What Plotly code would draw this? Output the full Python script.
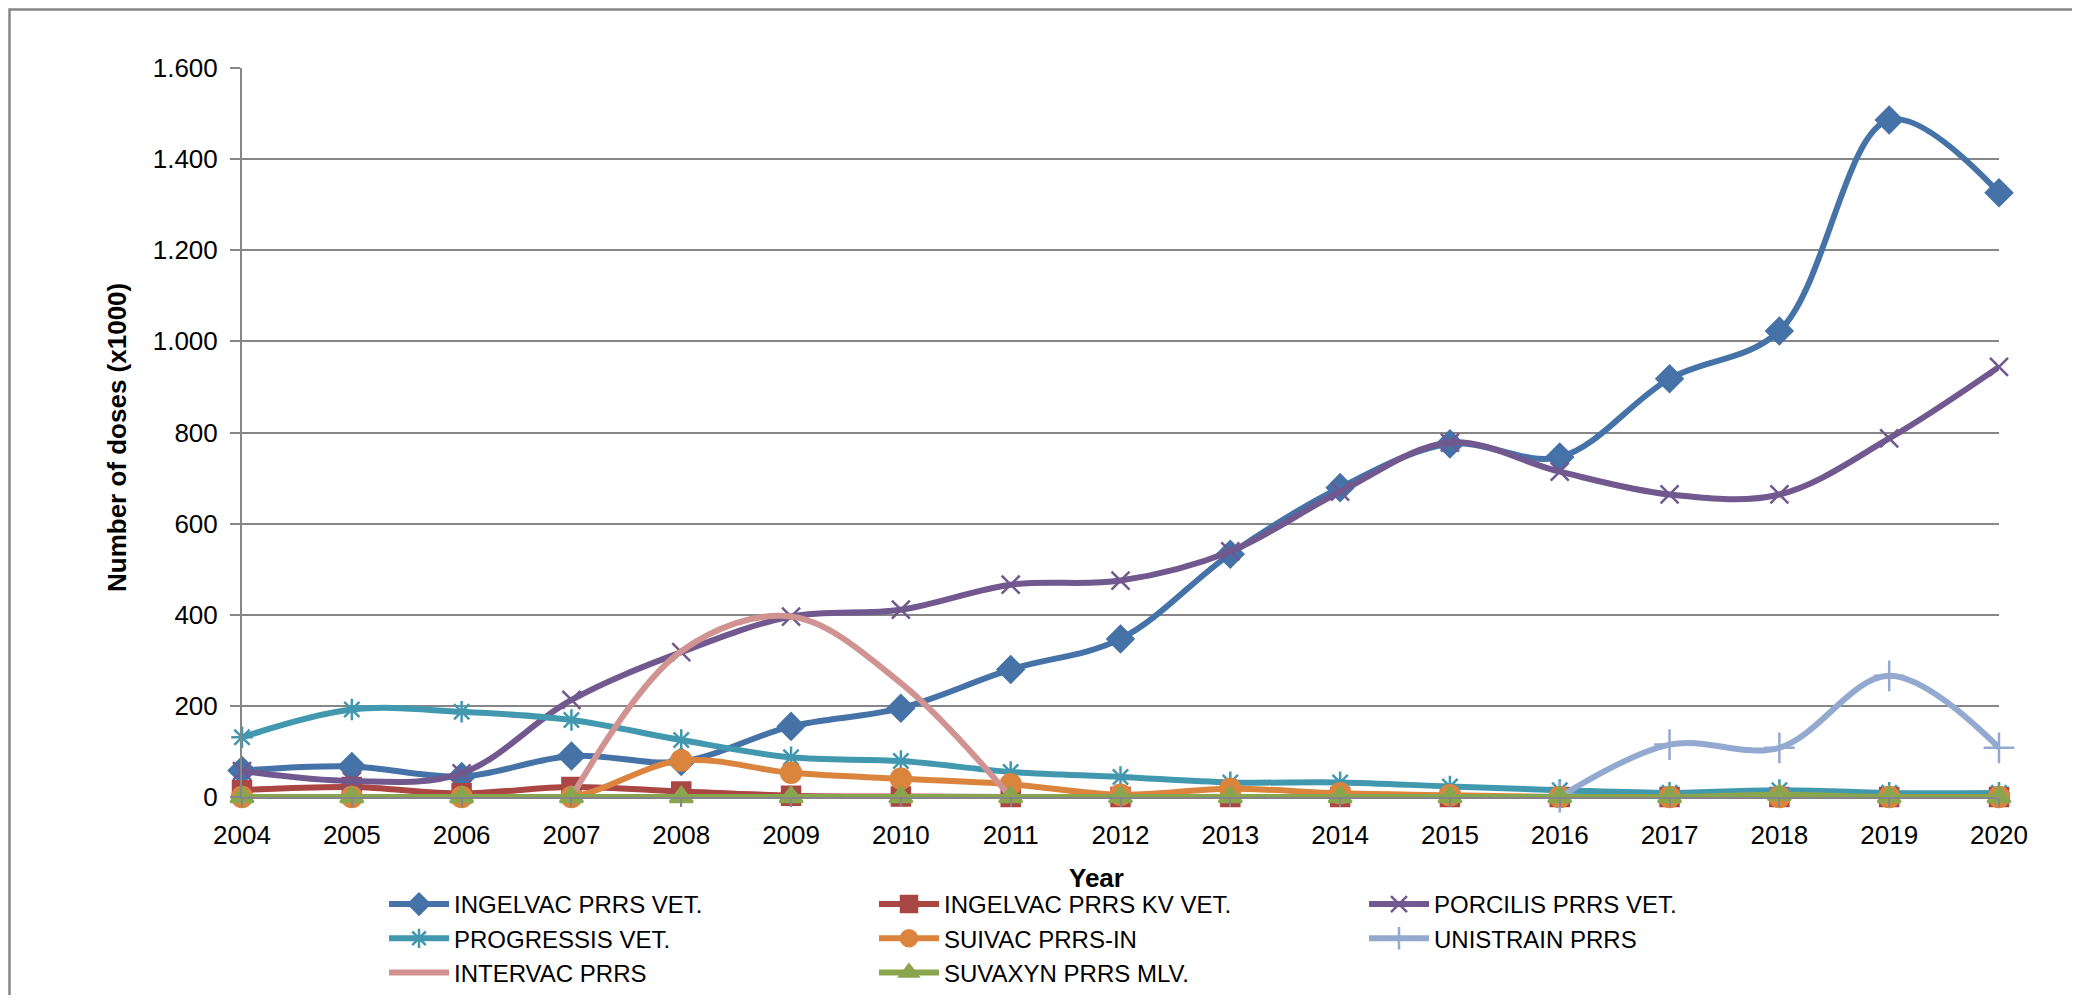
import plotly.graph_objects as go

years = list(range(2004, 2021))

ingelvac = [58, 67, 45, 90, 78, 155, 195, 280, 347, 533, 679, 775, 746, 918, 1023, 1486, 1326]
ingelvac_kv = [15, 22, 8, 22, 12, 3, 1, 0, 0, 0, 0, 0, 0, 0, 0, 0, 0]
porcilis = [57, 35, 52, 213, 318, 396, 411, 466, 475, 539, 670, 778, 714, 664, 664, 787, 944]
progressis = [131, 192, 187, 169, 125, 87, 79, 55, 44, 32, 32, 23, 15, 9, 15, 9, 9]
suivac = [0, 0, 0, 0, 80, 53, 40, 28, 5, 18, 8, 4, 0, 0, 0, 0, 0]
unistrain = [None] * 12 + [0, 115, 108, 266, 108]
intervac = [None, None, None, 0, 320, 396, 250, 0, None, None, None, None, None, None, None, None, None]
suvaxyn = [0, 0, 0, 0, 0, 0, 0, 0, 0, 0, 0, 0, 0, 0, 5, 0, 0]

series_names = ["INGELVAC PRRS VET.", "INGELVAC PRRS KV VET.", "PORCILIS PRRS VET.",
                "PROGRESSIS VET.", "SUIVAC PRRS-IN", "UNISTRAIN PRRS",
                "INTERVAC PRRS", "SUVAXYN PRRS MLV."]
series_values = [ingelvac, ingelvac_kv, porcilis, progressis, suivac, unistrain, intervac, suvaxyn]
colors = ["#4572A7", "#AA4643", "#71588F", "#4198AF", "#DB843D", "#93A9CF", "#D19392", "#89A54E"]
symbols = ["diamond", "square", "x-thin-open", "asterisk-open", "circle", "cross-thin-open", None, "triangle-up"]
msizes = [20, 18, 18, 18, 20, 22, 0, 20]

yticks = [0, 200, 400, 600, 800, 1000, 1200, 1400, 1600]
ytick_text = ["0", "200", "400", "600", "800", "1.000", "1.200", "1.400", "1.600"]

FONT = "Liberation Sans, Arial, sans-serif"

# The page body adds an 8px margin; figure is sized to fit the 2080x1003 window.
W, H = 2064, 987
L, T = 234, 60
PW, PH = 1757, 729
R, B = W - L - PW, H - T - PH
X0 = L            # pixel x of plot left (figure coords)
Y0 = T + PH       # pixel y of plot bottom (figure coords)


def px(x):
    return (x - X0) / PW


def py(y):
    return (Y0 - y) / PH


fig = go.Figure()
for name, vals, col, sym, ms in zip(series_names, series_values, colors, symbols, msizes):
    if sym is None:
        mode = "lines"
        marker = None
    else:
        mode = "lines+markers"
        marker = dict(symbol=sym, size=ms, color=col, line=dict(color=col, width=2.5))
    fig.add_trace(go.Scatter(
        x=years, y=vals, name=name, mode=mode,
        line=dict(color=col, width=6, shape="spline", smoothing=1.0),
        marker=marker, cliponaxis=False, connectgaps=False,
    ))

fig.update_layout(
    width=W, height=H,
    paper_bgcolor="white", plot_bgcolor="white",
    margin=dict(l=L, r=R, t=T, b=B, autoexpand=False),
    font=dict(family=FONT, size=26, color="#000000"),
    showlegend=True,
    legend=dict(
        orientation="h", x=px(376), xanchor="left", y=py(874), yanchor="top",
        entrywidth=415, entrywidthmode="pixels", itemwidth=60,
        font=dict(family=FONT, size=24, color="#000000"),
        tracegroupgap=0, traceorder="normal", bgcolor="rgba(0,0,0,0)",
    ),
    xaxis=dict(
        range=[2004, 2020], tickmode="array", tickvals=years,
        ticktext=[str(y) for y in years],
        showgrid=False, showline=True, linecolor="#868686", linewidth=2,
        ticks="outside", ticklen=8, tickcolor="#868686", tickwidth=2,
        ticklabelstandoff=6,
        zeroline=False, tickfont=dict(family=FONT, size=26),
    ),
    yaxis=dict(
        range=[0, 1600], tickmode="array", tickvals=yticks, ticktext=ytick_text,
        showgrid=True, gridcolor="#868686", gridwidth=2,
        showline=True, linecolor="#868686", linewidth=2,
        ticks="outside", ticklen=10, tickcolor="#868686", tickwidth=2,
        ticklabelstandoff=7,
        zeroline=False, tickfont=dict(family=FONT, size=26),
    ),
    annotations=[
        dict(text="<b>Year</b>", xref="paper", yref="paper",
             x=px(1088), y=py(870),
             xanchor="center", yanchor="middle", showarrow=False,
             font=dict(family=FONT, size=26, color="#000000")),
        dict(text="<b>Number of doses (x1000)</b>", xref="paper", yref="paper",
             x=px(109), y=py(430), textangle=-90,
             xanchor="center", yanchor="middle", showarrow=False,
             font=dict(family=FONT, size=26, color="#000000")),
    ],
    shapes=[dict(
        type="rect", xref="paper", yref="paper",
        x0=px(1.5), x1=px(W + 20),
        y0=py(H + 20), y1=py(1.5),
        line=dict(color="#868686", width=2.5), fillcolor="rgba(0,0,0,0)", layer="below",
    )],
)

fig.write_html("out.html")
